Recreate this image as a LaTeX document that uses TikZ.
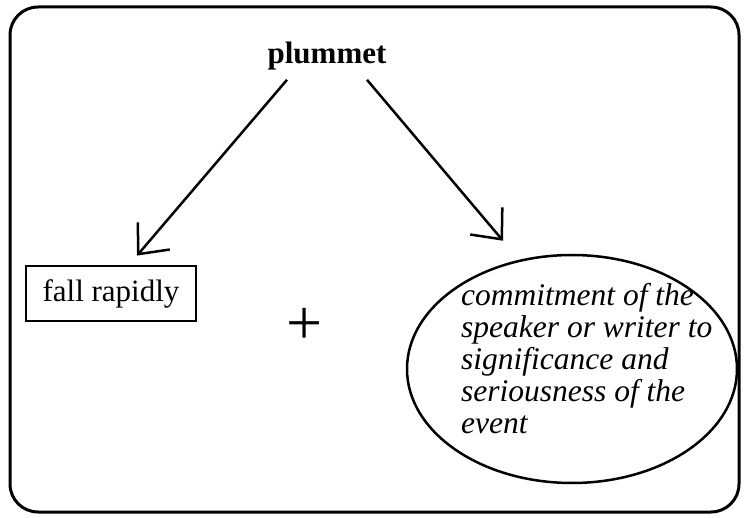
\documentclass[tikz,border=0pt]{standalone}
\usepackage{fontspec}
\setmainfont{Liberation Serif}
\usetikzlibrary{shapes.geometric,arrows.meta}
\begin{document}
\begin{tikzpicture}[x=1pt,y=-1pt,
  frame/.style={draw,line width=3pt,rounded corners=28pt},
  headword/.style={font=\fontsize{31}{32}\selectfont\bfseries,inner sep=0pt},
  sensebox/.style={draw,line width=2.8pt,rectangle,minimum width=170pt,minimum height=55pt,inner sep=0pt,font=\fontsize{31}{32}\selectfont},
  senseoval/.style={draw,line width=2.5pt,ellipse,minimum width=330pt,minimum height=228pt,inner sep=0pt},
  ovaltext/.style={font=\fontsize{31.5}{32}\selectfont\itshape,align=left,inner sep=0pt},
  plus/.style={font=\fontsize{64}{64}\selectfont,inner sep=0pt},
  arr/.style={line width=2.5pt,-{Straight Barb[length=24pt,width=42pt,line width=2.5pt]}}
]
\useasboundingbox (0,0) rectangle (744,518);
\draw[frame] (10,7) rectangle (739,512);

\node[headword,anchor=base] (pl) at (327,64) {plummet};
\node[sensebox] (fr) at (111,293.5) {fall rapidly};
\node[senseoval] (ell) at (572,369) {};
% the base anchor of a multi-line node sits on its last line
\node[ovaltext,anchor=base west] (et) at (461,433)
  {commitment of the\\speaker or writer to\\significance and\\seriousness of the\\event};
\node[plus] (pm) at (305,326) {+};

\draw[arr] ([xshift=-40pt,yshift=-9pt]pl.south) -- ([xshift=26pt,yshift=9pt]fr.north);
\draw[arr] ([xshift=40pt,yshift=-9pt]pl.south) -- ([xshift=-69pt,yshift=13pt]ell.north);
\end{tikzpicture}
\end{document}
